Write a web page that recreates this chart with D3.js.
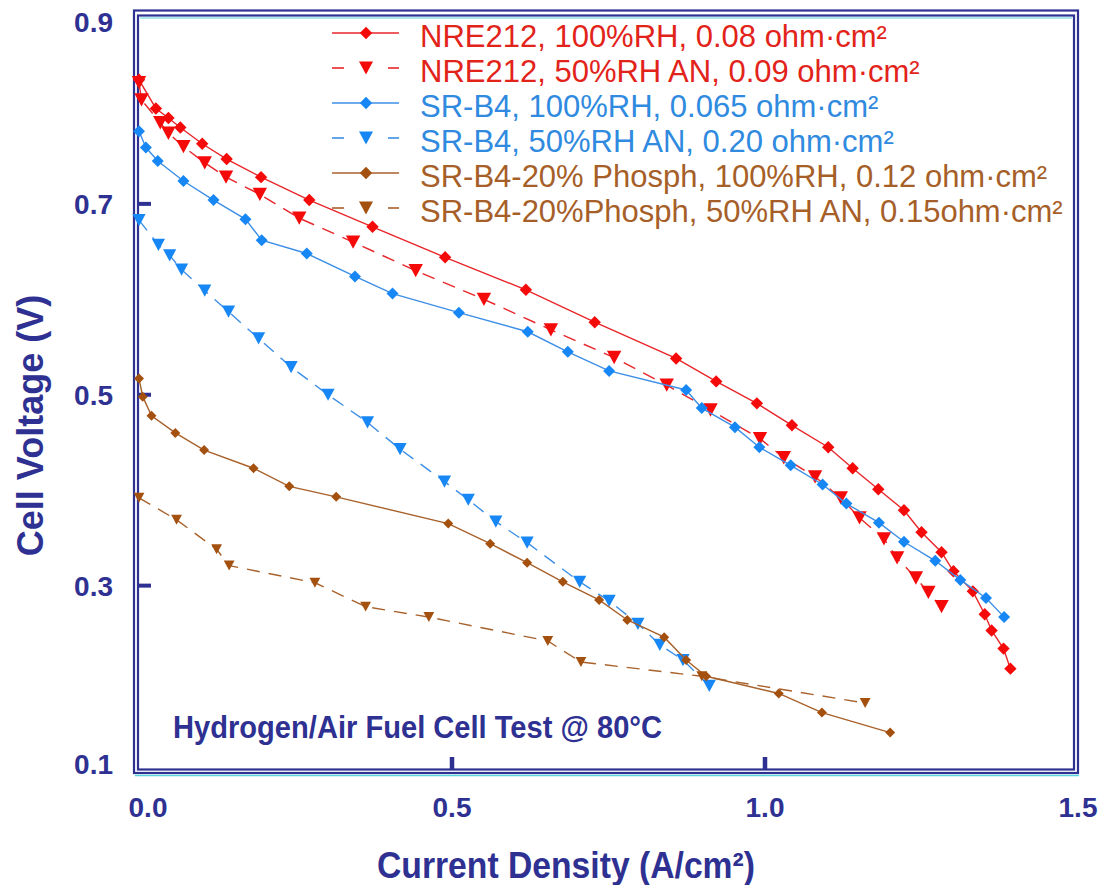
<!DOCTYPE html>
<html><head><meta charset="utf-8">
<script src="https://cdn.jsdelivr.net/npm/d3@7"></script>
<style>body{margin:0;background:#fff}svg{display:block;background:#fff}</style>
</head><body>
<svg id="c" width="1109" height="885"></svg>
<script>
// ---------- data ----------
const xTicks = [0, 0.5, 1.0, 1.5];
const xTickLabels = ["0.0", "0.5", "1.0", "1.5"];
const yTicks = [0.1, 0.3, 0.5, 0.7, 0.9];
const yTickLabels = ["0.1", "0.3", "0.5", "0.7", "0.9"];
const xMinorMarks = [0.5, 1.0];
const yMinorMarks = [0.3, 0.5, 0.7];

const legendLabels = [
  "NRE212, 100%RH, 0.08 ohm\u00B7cm\u00B2",
  "NRE212, 50%RH AN, 0.09 ohm\u00B7cm\u00B2",
  "SR-B4, 100%RH, 0.065 ohm\u00B7cm\u00B2",
  "SR-B4, 50%RH AN, 0.20 ohm\u00B7cm\u00B2",
  "SR-B4-20% Phosph, 100%RH, 0.12 ohm\u00B7cm\u00B2",
  "SR-B4-20%Phosph, 50%RH AN, 0.15ohm\u00B7cm\u00B2"
];

const nre100 = [[0.000,0.830],[0.027,0.800],[0.047,0.790],[0.066,0.780],[0.101,0.763],[0.140,0.747],[0.195,0.728],[0.272,0.704],[0.373,0.676],[0.489,0.644],[0.618,0.610],[0.728,0.576],[0.858,0.538],[0.922,0.514],[0.987,0.491],[1.043,0.468],[1.101,0.445],[1.140,0.423],[1.181,0.401],[1.222,0.379],[1.250,0.356],[1.282,0.335],[1.301,0.315],[1.332,0.294],[1.351,0.270],[1.362,0.253],[1.381,0.234],[1.392,0.213]];
const nre50 = [[0.000,0.827],[0.004,0.809],[0.034,0.785],[0.047,0.774],[0.071,0.760],[0.105,0.743],[0.139,0.728],[0.193,0.710],[0.256,0.685],[0.342,0.660],[0.442,0.630],[0.551,0.600],[0.658,0.568],[0.759,0.539],[0.843,0.510],[0.913,0.484],[0.992,0.454],[1.030,0.434],[1.080,0.414],[1.121,0.392],[1.151,0.371],[1.190,0.349],[1.211,0.329],[1.241,0.308],[1.261,0.293],[1.282,0.278]];
const srb100 = [[0.000,0.776],[0.011,0.759],[0.030,0.745],[0.071,0.724],[0.119,0.704],[0.170,0.684],[0.196,0.662],[0.268,0.648],[0.345,0.624],[0.405,0.606],[0.511,0.586],[0.621,0.566],[0.685,0.545],[0.751,0.525],[0.874,0.505],[0.899,0.486],[0.952,0.466],[0.991,0.445],[1.041,0.426],[1.092,0.406],[1.130,0.386],[1.182,0.366],[1.222,0.346],[1.272,0.326],[1.312,0.306],[1.353,0.287],[1.382,0.267]];
const srb50 = [[0.000,0.683],[0.031,0.657],[0.049,0.646],[0.068,0.631],[0.105,0.609],[0.143,0.587],[0.191,0.559],[0.243,0.529],[0.302,0.500],[0.365,0.471],[0.417,0.443],[0.488,0.409],[0.526,0.390],[0.570,0.367],[0.620,0.345],[0.704,0.304],[0.751,0.284],[0.797,0.260],[0.832,0.238],[0.869,0.222],[0.911,0.195]];
const phos100 = [[0.000,0.517],[0.006,0.498],[0.020,0.478],[0.058,0.460],[0.104,0.442],[0.183,0.423],[0.240,0.404],[0.315,0.393],[0.494,0.365],[0.561,0.344],[0.620,0.324],[0.677,0.304],[0.735,0.285],[0.780,0.264],[0.839,0.246],[0.874,0.222],[0.906,0.205],[1.022,0.187],[1.091,0.167],[1.200,0.146]];
const phos50 = [[0.000,0.392],[0.060,0.369],[0.124,0.338],[0.144,0.321],[0.281,0.303],[0.362,0.278],[0.463,0.267],[0.653,0.242],[0.706,0.220],[0.899,0.205],[1.160,0.177]];

const seriesData = [nre100, nre50, srb100, srb50, phos100, phos50];

// ---------- styles / layout ----------
const AX = "#2e3192";
const FONT = "Arial, 'Liberation Sans', Helvetica, sans-serif";
const styles = [
  {line:"#e8262a", mark:"#f50a0a", text:"#e2231a", dash:null,   shape:"diamond",  s:6.2},
  {line:"#e8262a", mark:"#f50a0a", text:"#e2231a", dash:"13,9", shape:"triangle", s:7.2},
  {line:"#3d8fe6", mark:"#1787f5", text:"#2f8ae0", dash:null,   shape:"diamond",  s:6.0},
  {line:"#3d8fe6", mark:"#1787f5", text:"#2f8ae0", dash:"13,9", shape:"triangle", s:6.6},
  {line:"#a8612b", mark:"#a4500f", text:"#a65f28", dash:null,   shape:"diamond",  s:5.0},
  {line:"#a8612b", mark:"#a4500f", text:"#a65f28", dash:"13,9", shape:"triangle", s:5.4}
];
function shapePath(shape, r){
  if(shape==="diamond") return `M0,${-r}L${r},0L0,${r}L${-r},0Z`;
  const h = r*1.85;
  return `M${-r},${-h/2}L${r},${-h/2}L0,${h/2}Z`;
}

const svg = d3.select("#c");
const x = d3.scaleLinear().domain([0, 1.5]).range([139, 1078]);
const y = d3.scaleLinear().domain([0.1, 0.9]).range([776.5, 13]);

// ---------- frame ----------
svg.append("rect").attr("x",134).attr("y",10.5).attr("width",944).attr("height",762.5)
  .attr("fill","none").attr("stroke",AX).attr("stroke-width",2.2);
svg.append("rect").attr("x",138).attr("y",15.5).attr("width",936).attr("height",754)
  .attr("fill","none").attr("stroke",AX).attr("stroke-width",2.2);
svg.append("line").attr("x1",140).attr("x2",1072).attr("y1",18).attr("y2",18)
  .attr("stroke","#56d6dc").attr("stroke-width",1.2);
svg.append("line").attr("x1",135).attr("x2",1079).attr("y1",775.5).attr("y2",775.5)
  .attr("stroke","#56d6dc").attr("stroke-width",1.4);

// ticks
svg.selectAll(".yt").data(yMinorMarks).enter().append("line")
  .attr("x1",138).attr("x2",151).attr("y1",d=>y(d)).attr("y2",d=>y(d))
  .attr("stroke",AX).attr("stroke-width",4);
svg.selectAll(".xt").data(xMinorMarks).enter().append("line")
  .attr("x1",d=>x(d)).attr("x2",d=>x(d)).attr("y1",770).attr("y2",757)
  .attr("stroke",AX).attr("stroke-width",4.5);

// tick labels
svg.selectAll(".yl").data(yTicks).enter().append("text")
  .attr("x",113).attr("y",d=>Math.min(Math.max(y(d),22),764)).attr("dy","0.36em")
  .attr("text-anchor","end").attr("font-family",FONT).attr("font-weight","bold")
  .attr("font-size",28).attr("fill",AX).text((d,i)=>yTickLabels[i]);
svg.selectAll(".xl").data(xTicks).enter().append("text")
  .attr("x",d=>Math.max(x(d),148)).attr("y",817)
  .attr("text-anchor","middle").attr("font-family",FONT).attr("font-weight","bold")
  .attr("font-size",28).attr("fill",AX).text((d,i)=>xTickLabels[i]);

// axis titles
svg.append("text").attr("transform","translate(43,425.5) rotate(-90)")
  .attr("text-anchor","middle").attr("font-family",FONT).attr("font-weight","bold")
  .attr("font-size",36).attr("fill",AX).text("Cell Voltage (V)");
svg.append("text").attr("x",377).attr("y",878)
  .attr("textLength",378).attr("lengthAdjust","spacingAndGlyphs")
  .attr("font-family",FONT).attr("font-weight","bold")
  .attr("font-size",36).attr("fill",AX).text("Current Density (A/cm\u00B2)");
svg.append("text").attr("x",173).attr("y",738)
  .attr("textLength",489).attr("lengthAdjust","spacingAndGlyphs")
  .attr("font-family",FONT).attr("font-weight","bold")
  .attr("font-size",31).attr("fill",AX).text("Hydrogen/Air Fuel Cell Test @ 80\u00B0C");

// ---------- series ----------
const line = d3.line().x(d=>x(d[0])).y(d=>y(d[1]));
seriesData.forEach((data, i) => {
  const st = styles[i];
  const g = svg.append("g");
  g.append("path").attr("d", line(data)).attr("fill","none")
    .attr("stroke", st.line).attr("stroke-width", 1.4)
    .attr("stroke-dasharray", st.dash);
  g.selectAll("path.m").data(data).enter().append("path").attr("class","m")
    .attr("transform", d=>`translate(${x(d[0])},${y(d[1])})`)
    .attr("d", shapePath(st.shape, st.s)).attr("fill", st.mark);
});

// ---------- legend ----------
const lg = svg.append("g");
legendLabels.forEach((lab, i) => {
  const st = styles[i];
  const base = 46.5 + i*35;
  const cy = base - 13.5;
  if (st.dash) {
    lg.append("line").attr("x1",332).attr("x2",344).attr("y1",cy).attr("y2",cy)
      .attr("stroke",st.line).attr("stroke-width",1.6);
    lg.append("line").attr("x1",388).attr("x2",399).attr("y1",cy).attr("y2",cy)
      .attr("stroke",st.line).attr("stroke-width",1.6);
  } else {
    lg.append("line").attr("x1",332).attr("x2",399).attr("y1",cy).attr("y2",cy)
      .attr("stroke",st.line).attr("stroke-width",1.6);
  }
  lg.append("path").attr("transform",`translate(366,${cy})`)
    .attr("d", shapePath(st.shape, st.shape==="diamond"?6.2:7)).attr("fill", st.mark);
  lg.append("text").attr("x",420).attr("y",base)
    .attr("font-family",FONT).attr("font-size",31).attr("fill",st.text).text(lab);
});
</script>
</body></html>
